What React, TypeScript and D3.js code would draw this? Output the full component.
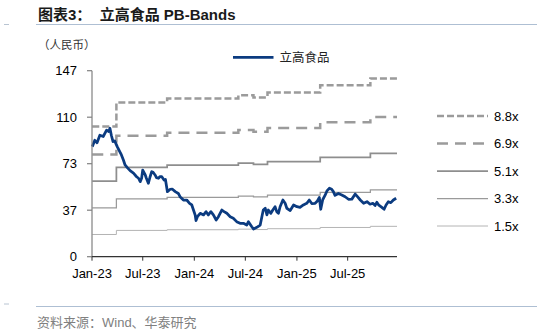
import React from "react";
import * as d3 from "d3";

const titleText = "图表3：  立高食品 PB-Bands";
const unitLabel = "（人民币）";
const seriesName = "立高食品";
const sourceText = "资料来源：Wind、华泰研究";

const priceDates = [
  "2023-01-02","2023-01-11","2023-01-19","2023-01-29","2023-02-10","2023-02-22","2023-03-02","2023-03-06",
  "2023-03-11","2023-03-17","2023-03-23","2023-04-01","2023-04-10","2023-04-16","2023-04-23","2023-04-29",
  "2023-05-07","2023-05-17","2023-05-29","2023-06-09","2023-06-16","2023-06-22","2023-06-27","2023-07-01",
  "2023-07-10","2023-07-14","2023-07-21","2023-07-27","2023-08-02","2023-08-07","2023-08-14","2023-08-19",
  "2023-08-26","2023-08-31","2023-09-07","2023-09-15","2023-09-20","2023-09-27","2023-10-07","2023-10-14",
  "2023-10-25","2023-11-05","2023-11-11","2023-11-23","2023-12-05","2023-12-15","2023-12-23","2023-12-29",
  "2024-01-04","2024-01-07","2024-01-12","2024-01-22","2024-02-03","2024-02-12","2024-02-20","2024-02-29",
  "2024-03-09","2024-03-19","2024-03-27","2024-04-08","2024-04-16","2024-04-26","2024-05-08","2024-05-19",
  "2024-05-31","2024-06-12","2024-06-24","2024-07-06","2024-07-12","2024-07-24","2024-07-30","2024-08-11",
  "2024-08-23","2024-08-29","2024-09-03","2024-09-10","2024-09-16","2024-09-21","2024-09-30","2024-10-07",
  "2024-10-15","2024-10-21","2024-10-27","2024-11-02","2024-11-12","2024-11-20","2024-11-26","2024-12-08",
  "2024-12-20","2025-01-01","2025-01-12","2025-01-24","2025-02-05","2025-02-14","2025-02-23","2025-03-07",
  "2025-03-15","2025-03-22","2025-03-27","2025-04-03","2025-04-12","2025-04-18","2025-04-27","2025-05-05",
  "2025-05-11","2025-05-17","2025-05-29","2025-06-10","2025-06-22","2025-07-04","2025-07-16","2025-07-28",
  "2025-08-05","2025-08-15","2025-08-27","2025-09-08","2025-09-19","2025-09-29","2025-10-07","2025-10-13",
  "2025-10-19","2025-10-31","2025-11-08","2025-11-15","2025-11-23","2025-12-02","2025-12-11","2025-12-21"
];
const priceValues = [
  87, 92, 90, 96, 95, 100, 99, 101.5,
  96, 91, 91.5, 87, 83, 80.4, 76.4, 72.5,
  70.4, 68, 66, 63.2, 62, 59.3, 62, 68.5,
  64.6, 62, 58, 63, 67.2, 66.7, 64.6, 62.5,
  62, 63.2, 63.2, 60.6, 61, 51.4, 53.3, 53.5,
  51.4, 50, 47.4, 44.8, 44.8, 42.2, 40.9, 36.9,
  33, 28.5, 31.6, 34.3, 33, 35.6, 33, 35.6,
  33, 29, 31.6, 36.9, 35.6, 34.3, 31.6, 30.4,
  27.7, 26.4, 26.4, 25, 27.7, 23.7, 21.9, 23.2,
  25, 31.6, 36.9, 38.3, 33, 36.9, 34.3, 36.9,
  39.5, 35.6, 34.3, 39.5, 44.8, 42.2, 38.3, 36.5,
  40.9, 39.5, 39, 40.9, 42.2, 44.8, 42, 42.2,
  44, 46.8, 37.5, 45, 48.8, 52, 54.1, 53.3,
  51.4, 48.5, 50, 48.8, 47.4, 45.4, 45.5, 49.5,
  47.4, 44.8, 42.2, 43.5, 41.5, 42.2, 40.5, 43,
  41, 39, 37.5, 40.9, 43.5, 42.7, 44.8, 46.2
];

const bvpsDates = ["2023-01-02","2023-03-29","2023-09-26","2024-06-06","2024-07-30","2024-09-18","2025-03-25","2025-09-20","2025-12-24"];
const bvpsValues = [11.7, 13.85, 14.2, 14.5, 14.3, 14.75, 15.4, 16.0, 16.0];

const multiples = [8.8, 6.9, 5.1, 3.3, 1.5];
const bandLabels = ["8.8x", "6.9x", "5.1x", "3.3x", "1.5x"];

const xTickDates = ["2023-01-01","2023-07-01","2024-01-01","2024-07-01","2025-01-01","2025-07-01"];
const xTickLabels = ["Jan-23","Jul-23","Jan-24","Jul-24","Jan-25","Jul-25"];
const yTickValues = [0, 36.75, 73.5, 110.25, 147];
const yTickLabels = ["0", "37", "73", "110", "147"];

const bandStyles = [
  { stroke: "#9b9b9b", width: 2.5, dash: "7,3" },
  { stroke: "#9b9b9b", width: 2.5, dash: "11,7" },
  { stroke: "#8e8e8e", width: 1.75, dash: null },
  { stroke: "#9a9a9a", width: 1.25, dash: null },
  { stroke: "#b4b4b4", width: 1, dash: null },
];

const parse = d3.timeParse("%Y-%m-%d");
const LATIN = "'Liberation Sans', Arial, sans-serif";
const CJK = "'Liberation Sans', 'Noto Sans CJK SC', sans-serif";

export default function App() {
  const x = d3.scaleTime()
    .domain([parse("2023-01-01")!, parse("2025-12-24")!])
    .range([92, 397]);
  const y = d3.scaleLinear().domain([0, 147]).range([256.7, 70.7]);

  const price = priceDates.map((d, i) => ({ date: parse(d)!, v: priceValues[i] }));
  const bvps = bvpsDates.map((d, i) => ({ date: parse(d)!, v: bvpsValues[i] }));

  const stepLine = d3.line<{ date: Date; v: number }>()
    .x((d) => x(d.date))
    .y((d) => y(d.v))
    .curve(d3.curveStepAfter);
  const priceLine = d3.line<{ date: Date; v: number }>()
    .x((d) => x(d.date))
    .y((d) => y(d.v));

  const legendY0 = 116;
  const legendStep = 27.5;

  return (
    <svg
      width={537}
      height={333}
      style={{ position: "fixed", left: 0, top: 0, background: "#fff" }}
    >
      <rect x={0} y={0} width={537} height={333} fill="#fff" />
      {/* title */}
      <text x={38} y={19.5} fontFamily={CJK} fontWeight={700} fontSize={15} fill="#1a1a1a" style={{ whiteSpace: "pre" }}>
        {titleText}
      </text>
      <line x1={4} x2={9} y1={24.5} y2={24.5} stroke="#b8c4d2" strokeWidth={1} />
      <line x1={36} x2={537} y1={24.5} y2={24.5} stroke="#aebfd3" strokeWidth={1.2} />

      <text x={38} y={49} fontFamily={CJK} fontSize={11.5} fill="#333">
        {unitLabel}
      </text>

      {/* bands */}
      {multiples.map((m, i) => {
        const data = bvps.map((p) => ({ date: p.date, v: p.v * m }));
        const s = bandStyles[i];
        return (
          <path
            key={"band" + i}
            d={stepLine(data) || ""}
            fill="none"
            stroke={s.stroke}
            strokeWidth={s.width}
            strokeDasharray={s.dash || undefined}
          />
        );
      })}

      {/* price */}
      <path
        d={priceLine(price) || ""}
        fill="none"
        stroke="#0b3b80"
        strokeWidth={2.75}
        strokeLinejoin="round"
      />

      {/* y axis */}
      <line x1={92} x2={92} y1={y(147)} y2={y(0)} stroke="#808080" strokeWidth={1.2} />
      {yTickValues.map((v, i) => (
        <g key={"yt" + i}>
          <line x1={87} x2={92} y1={y(v)} y2={y(v)} stroke="#808080" strokeWidth={1.2} />
          <text x={77} y={y(v) + 4.7} textAnchor="end" fontFamily={LATIN} fontSize={13} fill="#000">
            {yTickLabels[i]}
          </text>
        </g>
      ))}

      {/* x axis */}
      <line x1={92} x2={397} y1={y(0)} y2={y(0)} stroke="#333" strokeWidth={1.2} />
      {xTickDates.map((d, i) => {
        const px = x(parse(d)!);
        return (
          <g key={"xt" + i}>
            <line x1={px} x2={px} y1={y(0)} y2={y(0) + 4} stroke="#333" strokeWidth={1} />
            <text x={px} y={277.5} textAnchor="middle" fontFamily={LATIN} fontSize={13} fill="#000">
              {xTickLabels[i]}
            </text>
          </g>
        );
      })}

      {/* top legend */}
      <line x1={233} x2={273.5} y1={57.3} y2={57.3} stroke="#0b3b80" strokeWidth={2.75} />
      <text x={279.5} y={61.5} fontFamily={CJK} fontSize={12.5} fill="#222">
        {seriesName}
      </text>

      {/* right legend */}
      {bandLabels.map((lab, i) => {
        const s = bandStyles[i];
        const ly = legendY0 + i * legendStep;
        return (
          <g key={"lg" + i}>
            <line
              x1={437}
            x2={488}
              y1={ly}
              y2={ly}
              stroke={s.stroke}
              strokeWidth={s.width}
              strokeDasharray={s.dash || undefined}
            />
            <text x={494} y={ly + 4.7} fontFamily={LATIN} fontSize={13} fill="#000">
              {lab}
            </text>
          </g>
        );
      })}

      {/* footer */}
      <line x1={4} x2={9} y1={304} y2={304} stroke="#b8c4d2" strokeWidth={1} />
      <line x1={36} x2={537} y1={306.5} y2={306.5} stroke="#aebfd3" strokeWidth={1.2} />
      <text x={37} y={326.5} fontFamily={CJK} fontSize={13} fill="#808080">
        {sourceText}
      </text>
    </svg>
  );
}
